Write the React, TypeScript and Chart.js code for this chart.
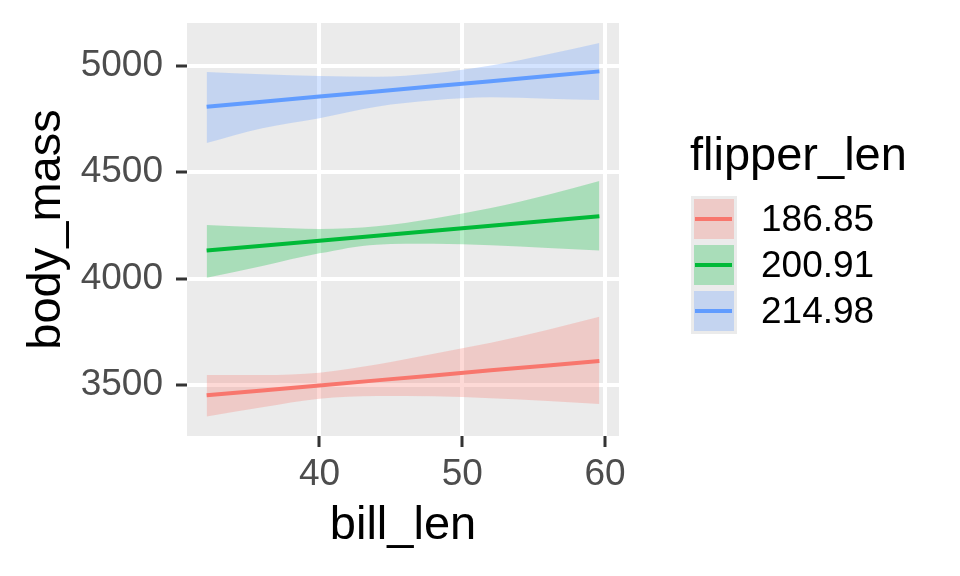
import { useEffect, useRef } from "react";
import Chart from "chart.js/auto";

// x positions of the read-off fit (bill_len)
const billLen = [32.1, 36, 40, 44, 48, 52, 56, 59.6];

const groups = ["186.85", "200.91", "214.98"];
const lineColors = ["#F8766D", "#00BA38", "#619CFF"];
const bandColors = [
  "rgba(248,118,109,0.28)",
  "rgba(0,186,56,0.28)",
  "rgba(97,156,255,0.28)",
];

const fitRed = [3453, 3476, 3499, 3523, 3546, 3570, 3593, 3614];
const lowerRed = [3353, 3397, 3437, 3450, 3448, 3439, 3426, 3412];
const upperRed = [3548, 3548, 3559, 3597, 3648, 3699, 3760, 3821];

const fitGreen = [4132, 4155, 4178, 4202, 4225, 4249, 4272, 4293];
const lowerGreen = [4005, 4060, 4119, 4160, 4164, 4157, 4144, 4132];
const upperGreen = [4252, 4241, 4233, 4246, 4283, 4332, 4394, 4458];

const fitBlue = [4807, 4831, 4855, 4879, 4903, 4927, 4951, 4973];
const lowerBlue = [4637, 4706, 4753, 4807, 4837, 4851, 4845, 4839];
const upperBlue = [4970, 4959, 4951, 4948, 4964, 5000, 5053, 5106];

const xTicks = [40, 50, 60];
const yTicks = [3500, 4000, 4500, 5000];

const FONT = '"Liberation Sans", Arial, Helvetica, sans-serif';

const fits = [fitRed, fitGreen, fitBlue];
const lowers = [lowerRed, lowerGreen, lowerBlue];
const uppers = [upperRed, upperGreen, upperBlue];

const toPoints = (ys: number[]) => ys.map((y, i) => ({ x: billLen[i], y }));

const panelBackground = {
  id: "panelBackground",
  beforeDraw(chart: Chart) {
    const { ctx, chartArea, width, height } = chart;
    ctx.save();
    ctx.fillStyle = "#FFFFFF";
    ctx.fillRect(0, 0, width, height);
    ctx.fillStyle = "#EBEBEB";
    ctx.fillRect(chartArea.left, chartArea.top, chartArea.right - chartArea.left, chartArea.bottom - chartArea.top);
    ctx.restore();
  },
};

function buildDatasets() {
  const sets: any[] = [];
  groups.forEach((g, i) => {
    const base = sets.length;
    sets.push({
      label: g + " lower",
      data: toPoints(lowers[i]),
      borderWidth: 0,
      pointRadius: 0,
      fill: false,
      cubicInterpolationMode: "monotone",
      order: 1,
    });
    sets.push({
      label: g + " upper",
      data: toPoints(uppers[i]),
      borderWidth: 0,
      pointRadius: 0,
      backgroundColor: bandColors[i],
      fill: base,
      cubicInterpolationMode: "monotone",
      order: 1,
    });
    sets.push({
      label: g,
      data: toPoints(fits[i]),
      borderColor: lineColors[i],
      borderWidth: 4,
      pointRadius: 0,
      fill: false,
      order: 0,
    });
  });
  return sets;
}

const gridStyle = {
  color: "#FFFFFF",
  lineWidth: 4,
  drawTicks: true,
  tickLength: 11,
  tickColor: "#333333",
  tickWidth: 3,
};

export default function App() {
  const canvasRef = useRef<HTMLCanvasElement>(null);

  useEffect(() => {
    if (!canvasRef.current) return;
    const chart = new Chart(canvasRef.current, {
      type: "line",
      data: { datasets: buildDatasets() },
      options: {
        animation: false,
        responsive: false,
        devicePixelRatio: 1,
        layout: { padding: { left: 0, right: 341, top: 23, bottom: 0 } },
        plugins: { legend: { display: false }, tooltip: { enabled: false } },
        scales: {
          x: {
            type: "linear",
            min: 30.725,
            max: 60.975,
            afterFit: (s: any) => {
              s.height = 140;
              s.paddingLeft = 0;
              s.paddingRight = 0;
            },
            afterBuildTicks: (s: any) => {
              s.ticks = xTicks.map((v) => ({ value: v }));
            },
            grid: gridStyle,
            border: { display: false },
            ticks: {
              autoSkip: false,
              maxRotation: 0,
              padding: 6,
              color: "#4D4D4D",
              font: { family: FONT, size: 37 },
              callback: (v: any) => String(v),
            },
            title: {
              display: true,
              text: "bill_len",
              color: "#000000",
              font: { family: FONT, size: 47 },
              padding: { top: 0, bottom: 22 },
            },
          },
          y: {
            type: "linear",
            min: 3262,
            max: 5200,
            afterFit: (s: any) => {
              s.width = 187;
              s.paddingTop = 0;
              s.paddingBottom = 0;
            },
            afterBuildTicks: (s: any) => {
              s.ticks = yTicks.map((v) => ({ value: v }));
            },
            grid: gridStyle,
            border: { display: false },
            ticks: {
              autoSkip: false,
              padding: 13,
              color: "#4D4D4D",
              font: { family: FONT, size: 37 },
              callback: (v: any) => String(v),
            },
            title: {
              display: true,
              text: "body_mass",
              color: "#000000",
              font: { family: FONT, size: 47 },
              padding: { top: 19, bottom: 0 },
            },
          },
        },
      },
      plugins: [panelBackground],
    });
    return () => chart.destroy();
  }, []);

  return (
    <div style={{ position: "fixed", left: 0, top: 0, width: 960, height: 576, background: "#FFFFFF", fontFamily: FONT }}>
      <canvas ref={canvasRef} width={960} height={576} style={{ position: "absolute", left: 0, top: 0 }} />
      <div style={{ position: "absolute", left: 690, top: 130, fontSize: 47, lineHeight: "47px", color: "#000", whiteSpace: "nowrap" }}>
        flipper_len
      </div>
      <div style={{ position: "absolute", left: 691, top: 196, width: 46, height: 138, background: "#EBEBEB" }}>
        {groups.map((g, i) => (
          <div key={g}>
            <div style={{ position: "absolute", left: 3, top: 46 * i + 3, width: 40, height: 40, background: bandColors[i] }} />
            <div style={{ position: "absolute", left: 4, top: 46 * i + 21, width: 37, height: 4, background: lineColors[i] }} />
          </div>
        ))}
      </div>
      {groups.map((g, i) => (
        <div key={g} style={{ position: "absolute", left: 761, top: 196 + 46 * i, fontSize: 37, lineHeight: "46px", color: "#000", whiteSpace: "nowrap" }}>
          {g}
        </div>
      ))}
    </div>
  );
}
